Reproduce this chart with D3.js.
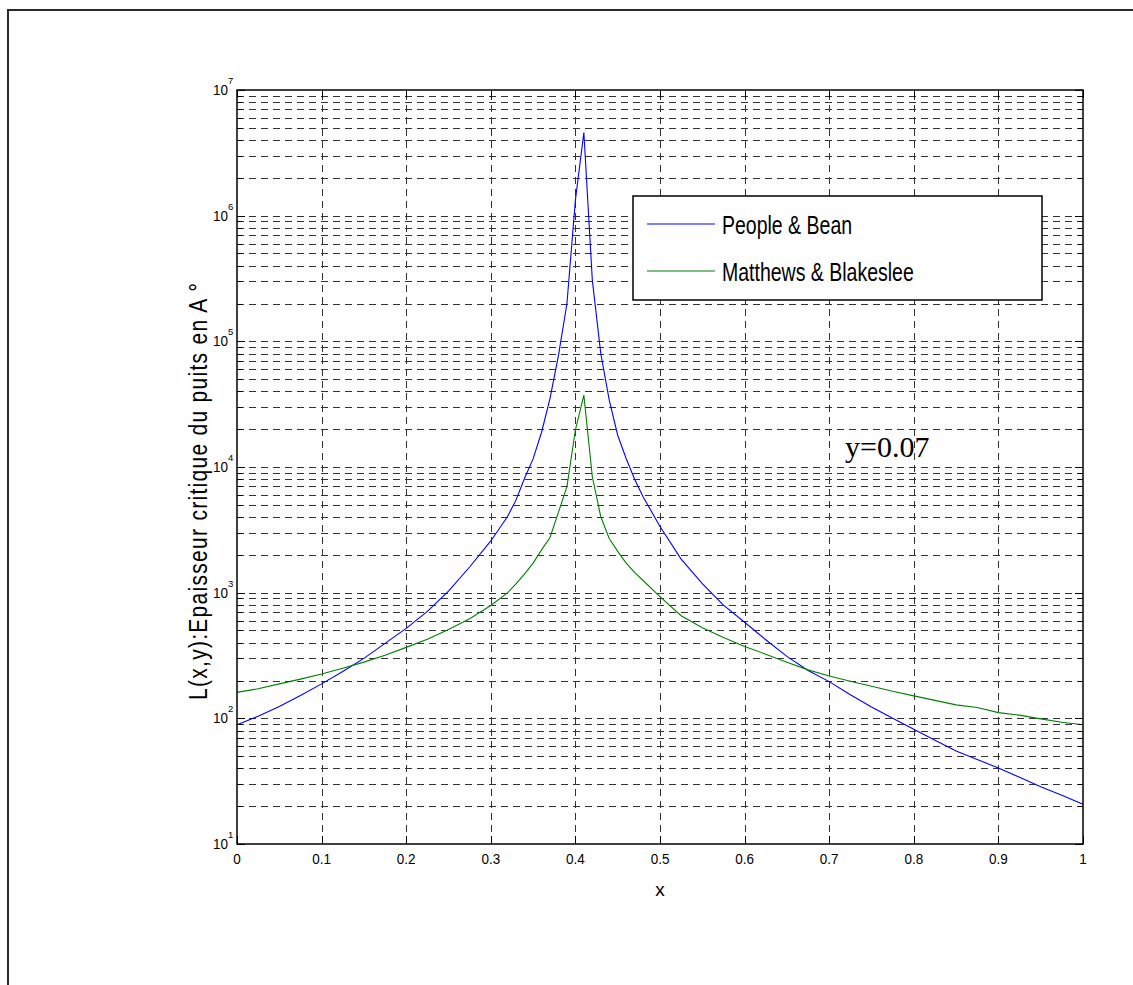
<!DOCTYPE html>
<html>
<head>
<meta charset="utf-8">
<script src="https://cdn.jsdelivr.net/npm/d3@7"></script>
<style>
    body { margin: 0; background: #fff; overflow: hidden; }
    svg { display: block; }
    text { font-family: "Liberation Sans", Arial, Helvetica, sans-serif; fill: #000; }
</style>
</head>
<body>
<div id="chart"></div>
<script>
// Donnees (x = composition, L en Angstrom)
const xValues = [0, 0.025, 0.05, 0.075, 0.1, 0.125, 0.15, 0.175, 0.2, 0.225, 0.25, 0.275,
    0.3, 0.32, 0.33, 0.34, 0.35, 0.36, 0.37, 0.38, 0.39, 0.40, 0.41, 0.42, 0.43, 0.44, 0.45, 0.46,
    0.47, 0.48, 0.50, 0.525, 0.55, 0.575, 0.6, 0.625, 0.65, 0.675, 0.7, 0.725, 0.75, 0.775,
    0.8, 0.825, 0.85, 0.875, 0.9, 0.925, 0.95, 0.975, 1.0];

const peopleBean = [89, 104, 124, 152, 188, 236, 300, 395, 520, 710, 1030, 1600,
    2580, 4060, 5500, 8170, 11600, 18900, 35200, 77300, 200000, 1330000, 4590000, 307000, 80000, 34000, 17900, 11700,
    8000, 5800, 3360, 1850, 1180, 795, 582, 422, 311, 240, 196, 154, 123, 100,
    82, 67, 55, 47, 40.3, 34, 28.6, 24.4, 20.7];

const matthewsBlakeslee = [161, 172, 188, 205, 225, 250, 280, 318, 367, 425, 510, 620,
    790, 1000, 1180, 1410, 1720, 2190, 2750, 4370, 6970, 19700, 37300, 8360, 4020, 2700, 2130, 1720,
    1450, 1250, 930, 655, 525, 440, 373, 324, 280, 243, 217, 197, 180, 164,
    151, 139, 128, 122, 111, 106, 99, 93, 89];

const seriesNames = ["People & Bean", "Matthews & Blakeslee"];
const seriesColors = ["#0000ff", "#008000"];

const xTicks = [0, 0.1, 0.2, 0.3, 0.4, 0.5, 0.6, 0.7, 0.8, 0.9, 1];
const xTickLabels = ["0", "0.1", "0.2", "0.3", "0.4", "0.5", "0.6", "0.7", "0.8", "0.9", "1"];
const yExponents = [1, 2, 3, 4, 5, 6, 7];

// Dimensions
const width = 1133;
const height = 985;
const pLeft = 237, pRight = 1083, pTop = 90, pBottom = 844;

const svg = d3.select("#chart")
    .append("svg")
    .attr("width", width)
    .attr("height", height);

// cadre de la figure
svg.append("rect")
    .attr("x", 8).attr("y", 10)
    .attr("width", 1400).attr("height", 1400)
    .attr("fill", "none")
    .attr("stroke", "#2a2a2a")
    .attr("stroke-width", 2);

const x = d3.scaleLinear().domain([0, 1]).range([pLeft, pRight]);
const y = d3.scaleLog().domain([10, 1e7]).range([pBottom, pTop]);

// valeurs de grille log (majeures + mineures)
const yGrid = [];
yExponents.slice(0, -1).forEach(e => {
    for (let m = 1; m <= 9; m++) yGrid.push(m * Math.pow(10, e));
});

const grid = svg.append("g")
    .attr("stroke", "#333")
    .attr("stroke-width", 1)
    .attr("stroke-dasharray", "7,5");

grid.selectAll(".hg")
    .data(yGrid.filter(v => v > 10))
    .enter()
    .append("line")
    .attr("x1", pLeft).attr("x2", pRight)
    .attr("y1", d => Math.round(y(d)) + 0.5)
    .attr("y2", d => Math.round(y(d)) + 0.5);

grid.selectAll(".vg")
    .data(xTicks.slice(1, -1))
    .enter()
    .append("line")
    .attr("y1", pBottom).attr("y2", pTop)
    .attr("x1", d => Math.round(x(d)) + 0.5)
    .attr("x2", d => Math.round(x(d)) + 0.5);

// courbes
const line = d3.line()
    .x(d => x(d[0]))
    .y(d => y(d[1]));

[peopleBean, matthewsBlakeslee].forEach((serie, i) => {
    svg.append("path")
        .datum(xValues.map((v, j) => [v, serie[j]]))
        .attr("d", line)
        .attr("fill", "none")
        .attr("stroke", seriesColors[i])
        .attr("stroke-width", 1.1);
});

// axes (ticks vers l'interieur, style matlab)
const tickLen = 8;
const axes = svg.append("g").attr("stroke", "#000").attr("stroke-width", 1);

axes.selectAll(".yt")
    .data(yGrid.concat([1e7]))
    .enter()
    .append("path")
    .attr("d", d => {
        const yy = Math.round(y(d)) + 0.5;
        const len = Math.log10(d) % 1 === 0 ? tickLen : tickLen * 0.6;
        return `M${pLeft},${yy}h${len}M${pRight},${yy}h${-len}`;
    });

axes.selectAll(".xt")
    .data(xTicks)
    .enter()
    .append("path")
    .attr("d", d => {
        const xx = Math.round(x(d)) + 0.5;
        return `M${xx},${pBottom}v${-tickLen}M${xx},${pTop}v${tickLen}`;
    });

svg.append("rect")
    .attr("x", pLeft).attr("y", pTop)
    .attr("width", pRight - pLeft).attr("height", pBottom - pTop)
    .attr("fill", "none")
    .attr("stroke", "#000")
    .attr("stroke-width", 1.5);

// etiquettes x
svg.selectAll(".xl")
    .data(xTicks)
    .enter()
    .append("text")
    .attr("transform", d => `translate(${x(d)}, ${pBottom + 20}) scale(1, 1.15)`)
    .attr("text-anchor", "middle")
    .attr("font-size", "13.5px")
    .text((d, i) => xTickLabels[i]);

// etiquettes y : 10^k
const yl = svg.selectAll(".yl")
    .data(yExponents)
    .enter()
    .append("g")
    .attr("transform", d => `translate(${pLeft - 9}, ${y(Math.pow(10, d))})`);

yl.append("text")
    .attr("transform", "translate(0, 5) scale(1, 1.15)")
    .attr("text-anchor", "end")
    .attr("font-size", "13.5px")
    .text("10");

yl.append("text")
    .attr("x", 0).attr("y", -6)
    .attr("font-size", "9.5px")
    .text(d => d);

// titres des axes
svg.append("text")
    .attr("x", x(0.5))
    .attr("y", 896)
    .attr("text-anchor", "middle")
    .attr("font-size", "19px")
    .text("x");

svg.append("text")
    .attr("transform", "translate(207, 700) rotate(-90) scale(1, 1.2)")
    .attr("font-size", "21px")
    .attr("textLength", 417)
    .attr("lengthAdjust", "spacing")
    .text("L(x,y):Epaisseur critique du puits  en A °");

svg.append("text")
    .attr("x", 845)
    .attr("y", 457)
    .style("font-family", "'Liberation Serif', 'Times New Roman', serif")
    .attr("font-size", "30px")
    .text("y=0.07");

// legende
const legend = svg.append("g").attr("transform", "translate(633, 196)");

legend.append("rect")
    .attr("width", 409)
    .attr("height", 104)
    .attr("fill", "#fff")
    .attr("stroke", "#000")
    .attr("stroke-width", 1.5);

const items = legend.selectAll(".item")
    .data(seriesNames)
    .enter()
    .append("g")
    .attr("transform", (d, i) => `translate(0, ${28 + i * 47})`);

items.append("line")
    .attr("x1", 14).attr("x2", 82)
    .attr("stroke", (d, i) => seriesColors[i])
    .attr("stroke-width", 1.2);

items.append("text")
    .attr("transform", "translate(89, 10) scale(1, 1.3)")
    .attr("font-size", "19.5px")
    .text(d => d);
</script>
</body>
</html>
